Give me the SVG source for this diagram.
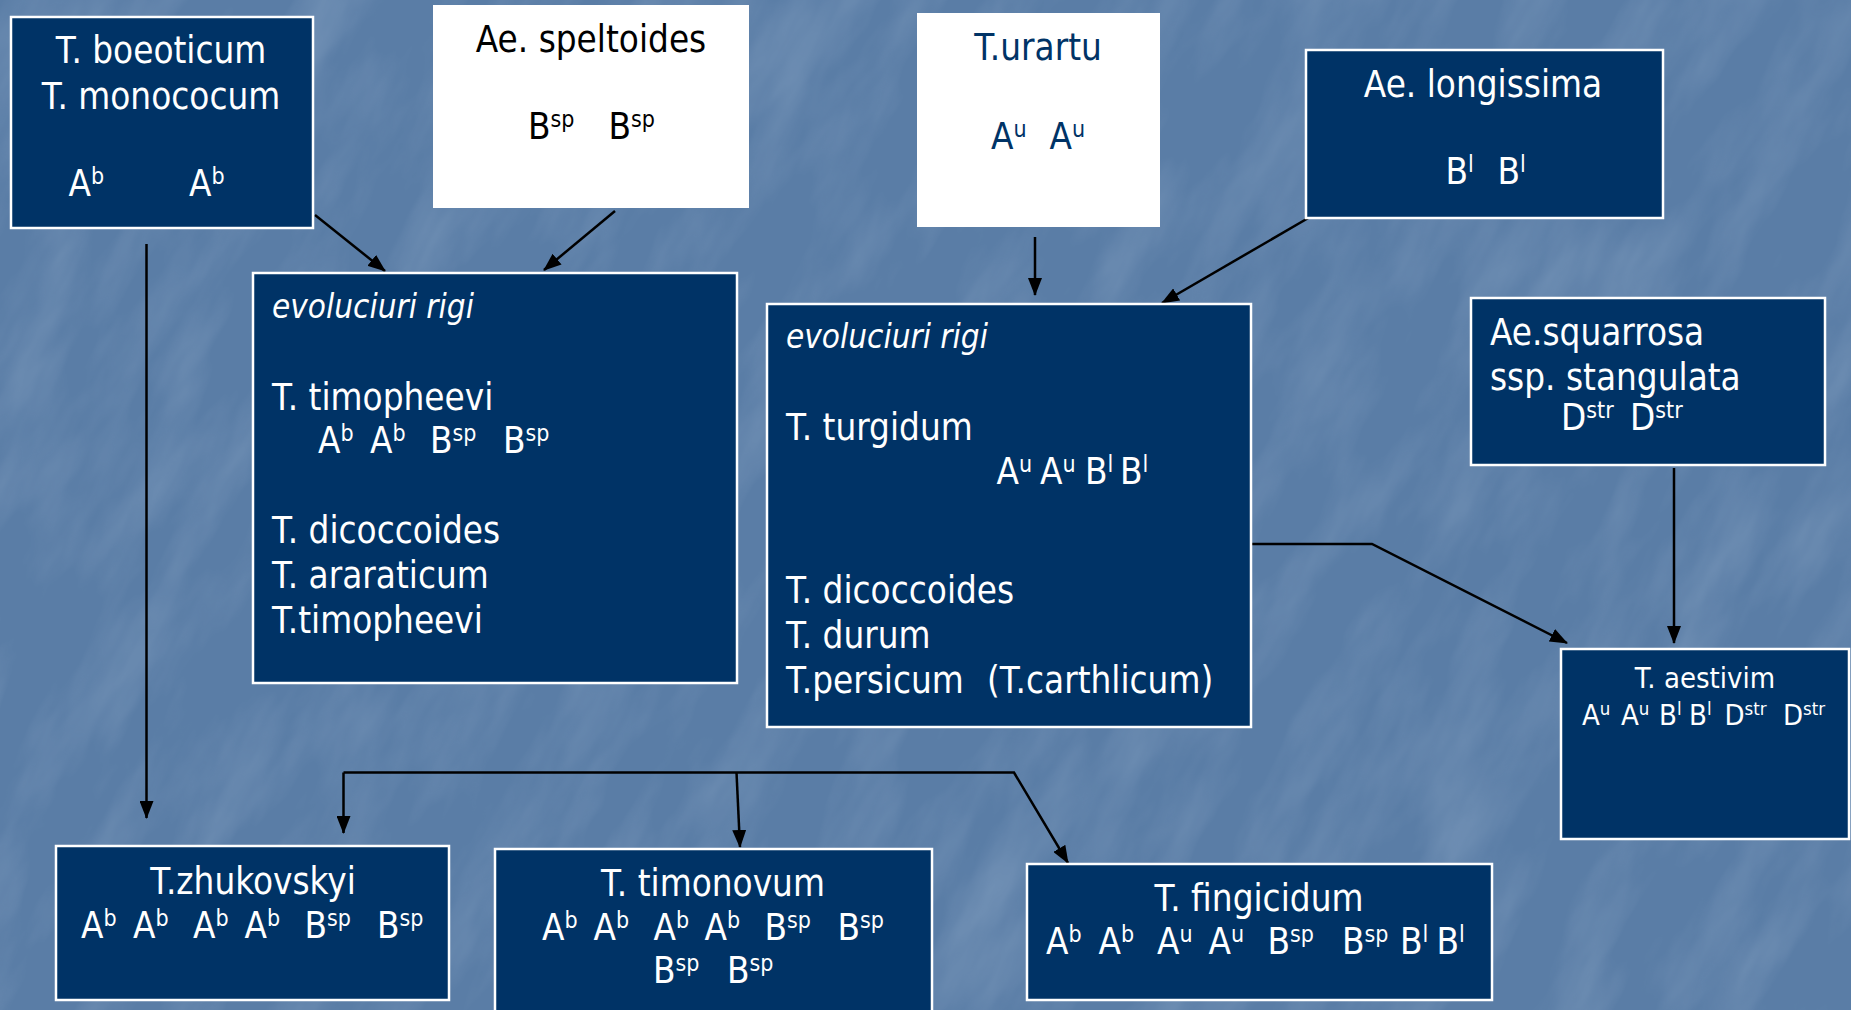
<svg xmlns="http://www.w3.org/2000/svg" width="1851" height="1010" viewBox="0 0 1851 1010">
<style>
.box{fill:#003366;stroke:#ffffff;stroke-width:2.5}
.wbox{fill:#ffffff}
.t{font-family:"DejaVu Sans Condensed","DejaVu Sans",sans-serif;font-stretch:condensed;font-size:36.5px;fill:#ffffff}
.s{font-size:23px}
.it{font-style:italic;font-size:33px}
.c{text-anchor:middle}
.sm{font-size:29px}
.sm .s{font-size:18.5px}
.ln{fill:none;stroke:#000000;stroke-width:2.5;marker-end:url(#ah)}
</style>
<defs>
<marker id="ah" markerUnits="userSpaceOnUse" markerWidth="18" markerHeight="14" refX="17" refY="7" orient="auto">
<path d="M0,0 L18,7 L0,14 z" fill="#000000"/>
</marker>
<filter id="tex" x="0" y="0" width="100%" height="100%">
<feTurbulence type="fractalNoise" baseFrequency="0.006 0.018" numOctaves="4" seed="7"/>
<feColorMatrix type="matrix" values="0 0 0 0 0.60  0 0 0 0 0.72  0 0 0 0 0.86  0.9 0 0 0 -0.36"/>
</filter>
</defs>
<rect x="0" y="0" width="1851" height="1010" fill="#5a7da6"/>
<g transform="rotate(-62 925 505)">
<rect x="-700" y="-700" width="3250" height="2410" filter="url(#tex)" opacity="0.4"/>
</g>

<g id="connectors">
<path class="ln" d="M315,215 L385,271"/>
<path class="ln" d="M615,211 L544,270"/>
<path class="ln" d="M146.5,244 L146.5,818"/>
<path class="ln" d="M1035,237 L1035,295"/>
<path class="ln" d="M1310,217 L1162,303"/>
<path class="ln" d="M1252,544 L1372,544 L1567,643"/>
<path class="ln" d="M1674,468 L1674,643"/>
<path class="ln" d="M343.5,772.5 L1014,772.5 L1068,863"/>
<path class="ln" d="M343.5,772.5 L343.5,833"/>
<path class="ln" d="M736.5,772.5 L740,847"/>
</g>

<g id="n-boeoticum">
<rect class="box" x="11" y="17" width="302" height="211"/>
<text class="t c" x="161" y="62.5">T. boeoticum</text>
<text class="t c" x="161" y="108.5">T. monococum</text>
<text class="t" y="196"><tspan x="68.5">A</tspan><tspan class="s" dy="-12">b</tspan><tspan x="189" dy="12">A</tspan><tspan class="s" dy="-12">b</tspan></text>
</g>

<g id="n-speltoides">
<rect class="wbox" x="433" y="5" width="316" height="203"/>
<text class="t c" x="591" y="52" style="fill:#000000">Ae. speltoides</text>
<text class="t" y="139" style="fill:#000000"><tspan x="528">B</tspan><tspan class="s" dy="-12">sp</tspan><tspan x="608.5" dy="12">B</tspan><tspan class="s" dy="-12">sp</tspan></text>
</g>

<g id="n-urartu">
<rect class="wbox" x="917" y="13" width="243" height="214"/>
<text class="t c" x="1038" y="60" style="fill:#003366">T.urartu</text>
<text class="t" y="149" style="fill:#003366"><tspan x="991">A</tspan><tspan class="s" dy="-12">u</tspan><tspan x="1049.5" dy="12">A</tspan><tspan class="s" dy="-12">u</tspan></text>
</g>

<g id="n-longissima">
<rect class="box" x="1306" y="50" width="357" height="168"/>
<text class="t c" x="1483" y="97">Ae. longissima</text>
<text class="t" y="184"><tspan x="1445.5">B</tspan><tspan class="s" dy="-12">l</tspan><tspan x="1497.5" dy="12">B</tspan><tspan class="s" dy="-12">l</tspan></text>
</g>

<g id="n-evol1">
<rect class="box" x="253" y="273" width="484" height="410"/>
<text class="t it" x="272" y="318">evoluciuri rigi</text>
<text class="t" x="272" y="410">T. timopheevi</text>
<text class="t" y="453"><tspan x="318">A</tspan><tspan class="s" dy="-12">b</tspan><tspan x="370" dy="12">A</tspan><tspan class="s" dy="-12">b</tspan><tspan x="430" dy="12">B</tspan><tspan class="s" dy="-12">sp</tspan><tspan x="503" dy="12">B</tspan><tspan class="s" dy="-12">sp</tspan></text>
<text class="t" x="272" y="543">T. dicoccoides</text>
<text class="t" x="272" y="588">T. araraticum</text>
<text class="t" x="272" y="633">T.timopheevi</text>
</g>

<g id="n-evol2">
<rect class="box" x="767" y="304" width="484" height="423"/>
<text class="t it" x="786" y="348">evoluciuri rigi</text>
<text class="t" x="786" y="440">T. turgidum</text>
<text class="t" y="484"><tspan x="996.5">A</tspan><tspan class="s" dy="-12">u</tspan><tspan x="1040" dy="12">A</tspan><tspan class="s" dy="-12">u</tspan><tspan x="1085" dy="12">B</tspan><tspan class="s" dy="-12">l</tspan><tspan x="1120" dy="12">B</tspan><tspan class="s" dy="-12">l</tspan></text>
<text class="t" x="786" y="603">T. dicoccoides</text>
<text class="t" x="786" y="648">T. durum</text>
<text class="t" y="693"><tspan x="786">T.persicum</tspan><tspan x="987">(T.carthlicum)</tspan></text>
</g>

<g id="n-squarrosa">
<rect class="box" x="1471" y="298" width="354" height="167"/>
<text class="t" x="1490" y="344.5">Ae.squarrosa</text>
<text class="t" x="1490" y="389.5">ssp. stangulata</text>
<text class="t" y="430"><tspan x="1561">D</tspan><tspan class="s" dy="-12">str</tspan><tspan x="1630" dy="12">D</tspan><tspan class="s" dy="-12">str</tspan></text>
</g>

<g id="n-aestivim">
<rect class="box" x="1561" y="649" width="288" height="190"/>
<text class="t sm c" x="1705" y="687.5">T. aestivim</text>
<text class="t sm" y="725"><tspan x="1582">A</tspan><tspan class="s" dy="-10">u</tspan><tspan x="1621" dy="10">A</tspan><tspan class="s" dy="-10">u</tspan><tspan x="1659" dy="10">B</tspan><tspan class="s" dy="-10">l</tspan><tspan x="1689" dy="10">B</tspan><tspan class="s" dy="-10">l</tspan><tspan x="1724.5" dy="10">D</tspan><tspan class="s" dy="-10">str</tspan><tspan x="1783" dy="10">D</tspan><tspan class="s" dy="-10">str</tspan></text>
</g>

<g id="n-zhukovskyi">
<rect class="box" x="56" y="846" width="393" height="154"/>
<text class="t c" x="253" y="893.5">T.zhukovskyi</text>
<text class="t" y="938"><tspan x="81">A</tspan><tspan class="s" dy="-12">b</tspan><tspan x="133" dy="12">A</tspan><tspan class="s" dy="-12">b</tspan><tspan x="193" dy="12">A</tspan><tspan class="s" dy="-12">b</tspan><tspan x="244.5" dy="12">A</tspan><tspan class="s" dy="-12">b</tspan><tspan x="304.5" dy="12">B</tspan><tspan class="s" dy="-12">sp</tspan><tspan x="377" dy="12">B</tspan><tspan class="s" dy="-12">sp</tspan></text>
</g>

<g id="n-timonovum">
<rect class="box" x="495" y="849" width="437" height="200"/>
<text class="t c" x="713" y="896">T. timonovum</text>
<text class="t" y="940"><tspan x="542">A</tspan><tspan class="s" dy="-12">b</tspan><tspan x="593.5" dy="12">A</tspan><tspan class="s" dy="-12">b</tspan><tspan x="653.5" dy="12">A</tspan><tspan class="s" dy="-12">b</tspan><tspan x="704.5" dy="12">A</tspan><tspan class="s" dy="-12">b</tspan><tspan x="764.5" dy="12">B</tspan><tspan class="s" dy="-12">sp</tspan><tspan x="837.5" dy="12">B</tspan><tspan class="s" dy="-12">sp</tspan></text>
<text class="t" y="983"><tspan x="653">B</tspan><tspan class="s" dy="-12">sp</tspan><tspan x="727" dy="12">B</tspan><tspan class="s" dy="-12">sp</tspan></text>
</g>

<g id="n-fingicidum">
<rect class="box" x="1027" y="864" width="465" height="136"/>
<text class="t c" x="1259" y="911">T. fingicidum</text>
<text class="t" y="954"><tspan x="1046">A</tspan><tspan class="s" dy="-12">b</tspan><tspan x="1098.5" dy="12">A</tspan><tspan class="s" dy="-12">b</tspan><tspan x="1157" dy="12">A</tspan><tspan class="s" dy="-12">u</tspan><tspan x="1208.5" dy="12">A</tspan><tspan class="s" dy="-12">u</tspan><tspan x="1267.5" dy="12">B</tspan><tspan class="s" dy="-12">sp</tspan><tspan x="1342" dy="12">B</tspan><tspan class="s" dy="-12">sp</tspan><tspan x="1400" dy="12">B</tspan><tspan class="s" dy="-12">l</tspan><tspan x="1436.5" dy="12">B</tspan><tspan class="s" dy="-12">l</tspan></text>
</g>
</svg>
